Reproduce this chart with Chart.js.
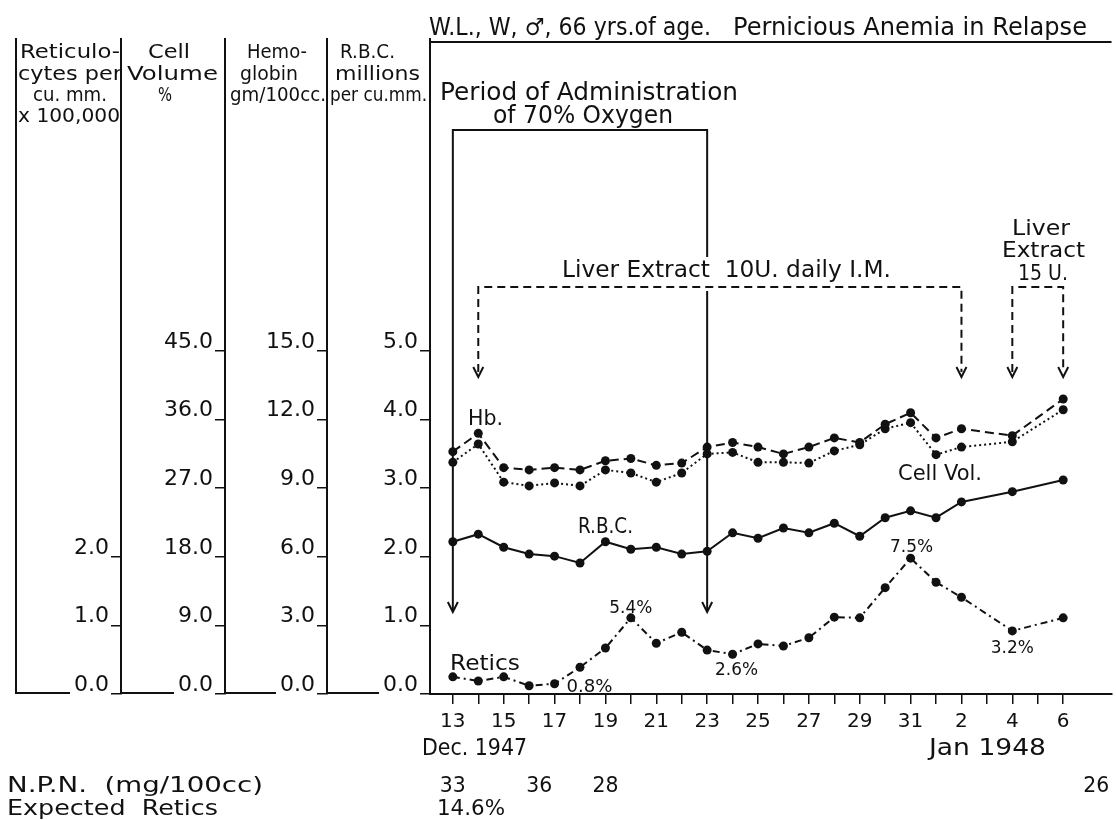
<!DOCTYPE html>
<html>
<head>
<meta charset="utf-8">
<script src="https://cdn.jsdelivr.net/npm/chart.js@4.4.1/dist/chart.umd.min.js"></script>
<style>
  html, body { margin: 0; padding: 0; background: #fff; }
  canvas { display: block; }
</style>
</head>
<body>
<canvas id="chart" width="1116" height="820"></canvas>
<script>
// Days counted from Dec 13, 1947 (0) to Jan 6, 1948 (24)
const dates = ['Dec 13', 'Dec 14', 'Dec 15', 'Dec 16', 'Dec 17', 'Dec 18', 'Dec 19', 'Dec 20',
  'Dec 21', 'Dec 22', 'Dec 23', 'Dec 24', 'Dec 25', 'Dec 26', 'Dec 27', 'Dec 28', 'Dec 29',
  'Dec 30', 'Dec 31', 'Jan 1', 'Jan 2', 'Jan 4', 'Jan 6'];
const dayIndex = [0, 1, 2, 3, 4, 5, 6, 7, 8, 9, 10, 11, 12, 13, 14, 15, 16, 17, 18, 19, 20, 22, 24];

const hemoglobin = [10.6, 11.4, 9.9, 9.8, 9.9, 9.8, 10.2, 10.3, 10.0, 10.1, 10.8, 11.0, 10.8,
  10.5, 10.8, 11.2, 11.0, 11.8, 12.3, 11.2, 11.6, 11.3, 12.9];
const cellVolume = [30.4, 32.8, 27.8, 27.3, 27.7, 27.3, 29.4, 29.0, 27.8, 29.0, 31.5, 31.7, 30.4,
  30.4, 30.3, 31.9, 32.7, 34.8, 35.6, 31.4, 32.4, 33.1, 37.3];
const rbc = [2.22, 2.33, 2.14, 2.04, 2.01, 1.91, 2.22, 2.11, 2.14, 2.04, 2.08, 2.35, 2.27,
  2.42, 2.35, 2.49, 2.30, 2.57, 2.67, 2.57, 2.80, 2.95, 3.12];
const retics = [0.25, 0.19, 0.25, 0.12, 0.15, 0.39, 0.67, 1.11, 0.74, 0.90, 0.64, 0.58, 0.73,
  0.70, 0.82, 1.12, 1.11, 1.55, 1.98, 1.63, 1.41, 0.92, 1.11];

const reticNoteDays = [4, 7, 11, 18, 22];
const reticNotes = ['0.8%', '5.4%', '2.6%', '7.5%', '3.2%'];

const npnDays = [0, 3.4, 6, 25.3];
const npnValues = ['33', '36', '28', '26'];

const xTickLabels = ['13', '', '15', '', '17', '', '19', '', '21', '', '23', '', '25', '', '27', '',
  '29', '', '31', '', '2', '', '4', '', '6'];
const reticTicks = [0, 1, 2];
const cellVolTicks = [0, 9, 18, 27, 36, 45];
const hbTicks = [0, 3, 6, 9, 12, 15];
const rbcTicks = [0, 1, 2, 3, 4, 5];

const BLACK = '#111';
const FONT = '"DejaVu Sans", sans-serif';

function points(values) {
  return values.map((v, i) => ({ x: dayIndex[i], y: v }));
}

// draw text squeezed/stretched to a given width
function fitText(ctx, text, x0, x1, y, size) {
  ctx.font = size + 'px ' + FONT;
  const w = ctx.measureText(text).width;
  ctx.save();
  ctx.translate(x0, y);
  ctx.scale((x1 - x0) / w, 1);
  ctx.textAlign = 'left';
  ctx.textBaseline = 'alphabetic';
  ctx.fillText(text, 0, 0);
  ctx.restore();
}

function centerText(ctx, text, cx, y, size, width) {
  fitText(ctx, text, cx - width / 2, cx + width / 2, y, size);
}

function arrowDown(ctx, x, y) {
  ctx.setLineDash([]);
  ctx.beginPath();
  ctx.moveTo(x - 5, y - 10);
  ctx.lineTo(x, y);
  ctx.lineTo(x + 5, y - 10);
  ctx.stroke();
}

function seg(ctx, x0, y0, x1, y1) {
  ctx.beginPath();
  ctx.moveTo(x0, y0);
  ctx.lineTo(x1, y1);
  ctx.stroke();
}

const annotations = {
  id: 'annotations',
  afterDraw(chart) {
    const { ctx, chartArea: ca, scales } = chart;
    const xs = scales.x;
    const px = d => xs.getPixelForValue(d);
    ctx.save();
    ctx.fillStyle = BLACK;
    ctx.strokeStyle = BLACK;
    ctx.lineWidth = 2;

    // frame top and column rulings
    seg(ctx, ca.left, ca.top + 1, ca.right, ca.top + 1);
    const yIds = ['yRet', 'yCv', 'yHb', 'yRbc'];
    const y0 = scales.yRbc.getPixelForValue(0);
    seg(ctx, scales.yRet.left, 38, scales.yRet.left, y0);
    yIds.forEach(id => {
      const s = scales[id];
      seg(ctx, s.right, 38, s.right, ca.top);
      ctx.font = '22px ' + FONT;
      const w = ctx.measureText('0.0').width;
      seg(ctx, s.left, y0 - 1, s.right - 10 - 3 - w - 3, y0 - 1);
    });

    // column headers
    const headers = [
      ['Reticulo-', 20, 120, 58], ['cytes per', 18, 122, 80], ['cu. mm.', 33, 107, 101], ['x 100,000', 18, 120, 122],
      ['Cell', 148, 190, 58], ['Volume', 127, 218, 80], ['%', 158, 172, 101],
      ['Hemo-', 247, 307, 58], ['globin', 240, 298, 80], ['gm/100cc.', 230, 326, 101],
      ['R.B.C.', 340, 395, 58], ['millions', 335, 420, 80], ['per cu.mm.', 330, 427, 101]
    ];
    headers.forEach(h => fitText(ctx, h[0], h[1], h[2], h[3], 19));

    // title
    fitText(ctx, 'W.L., W, \u2642, 66 yrs.of age.', 429, 711, 35, 24);
    fitText(ctx, 'Pernicious Anemia in Relapse', 733, 1087, 35, 24);

    // oxygen period
    fitText(ctx, 'Period of Administration', 440, 738, 100, 24);
    fitText(ctx, 'of 70% Oxygen', 493, 673, 123, 24);
    const xa = px(0), xb = px(10);
    ctx.setLineDash([]);
    ctx.beginPath();
    ctx.moveTo(xa, 611);
    ctx.lineTo(xa, 130);
    ctx.lineTo(xb, 130);
    ctx.lineTo(xb, 257);
    ctx.moveTo(xb, 291);
    ctx.lineTo(xb, 611);
    ctx.stroke();
    arrowDown(ctx, xa, 612);
    arrowDown(ctx, xb, 612);

    // liver extract brackets
    fitText(ctx, 'Liver Extract  10U. daily I.M.', 562, 891, 277, 23);
    fitText(ctx, 'Liver', 1012, 1070, 235, 22);
    fitText(ctx, 'Extract', 1002, 1085, 257, 22);
    fitText(ctx, '15 U.', 1018, 1068, 280, 22);
    ctx.setLineDash([8, 5]);
    [[1, 20], [22, 24]].forEach(([a, b]) => {
      ctx.beginPath();
      ctx.moveTo(px(a), 372);
      ctx.lineTo(px(a), 287);
      ctx.lineTo(px(b), 287);
      ctx.lineTo(px(b), 372);
      ctx.stroke();
      ctx.setLineDash([8, 5]);
    });
    [1, 20, 22, 24].forEach(d => arrowDown(ctx, px(d), 377));

    // series names
    fitText(ctx, 'Hb.', 468, 503, 425, 22);
    fitText(ctx, 'R.B.C.', 578, 633, 533, 21);
    fitText(ctx, 'Cell Vol.', 898, 982, 480, 21);
    fitText(ctx, 'Retics', 450, 520, 670, 22);

    // reticulocyte percentages
    const ry = scales.yRet;
    const place = [[12, 8, 'left'], [0, -5], [4, 21], [1, -6], [0, 22]];
    reticNoteDays.forEach((d, k) => {
      const i = dayIndex.indexOf(d);
      const x = px(d), y = ry.getPixelForValue(retics[i]);
      const [dx, dy, al] = place[k];
      if (al === 'left') fitText(ctx, reticNotes[k], x + dx, x + dx + 46, y + dy, 18);
      else centerText(ctx, reticNotes[k], x + dx, y + dy, 18, 43);
    });

    // below the axis
    fitText(ctx, 'Dec. 1947', 422, 527, 755, 23);
    fitText(ctx, 'Jan 1948', 929, 1046, 755, 23);
    fitText(ctx, 'N.P.N.  (mg/100cc)', 7, 263, 792, 22);
    fitText(ctx, 'Expected  Retics', 7, 218, 815, 22);
    npnDays.forEach((d, k) => centerText(ctx, npnValues[k], px(d), 792, 21, 26));
    fitText(ctx, '14.6%', 437, 505, 815, 21);

    ctx.restore();
  }
};

function yAxis(tickList, max, weight, width) {
  return {
    type: 'linear',
    position: 'left',
    min: 0,
    max: max,
    weight: weight,
    afterBuildTicks: s => { s.ticks = tickList.map(v => ({ value: v })); },
    afterFit: s => { s.width = width; },
    ticks: {
      callback: v => Number(v).toFixed(1),
      color: BLACK,
      font: { family: FONT, size: 22 },
      padding: 2,
      labelOffset: -9,
      autoSkip: false
    },
    grid: { drawOnChartArea: false, drawTicks: true, tickLength: 10, color: BLACK, lineWidth: 1.5 },
    border: { display: true, color: BLACK, width: 2 }
  };
}

const lineStyle = {
  borderColor: BLACK,
  borderWidth: 2,
  pointRadius: 4.5,
  pointBackgroundColor: BLACK,
  pointBorderWidth: 0,
  fill: false,
  tension: 0
};

new Chart(document.getElementById('chart'), {
  type: 'line',
  data: {
    datasets: [
      Object.assign({ label: 'Hb.', data: points(hemoglobin), yAxisID: 'yHb', borderDash: [9, 5] }, lineStyle),
      Object.assign({ label: 'Cell Vol.', data: points(cellVolume), yAxisID: 'yCv', borderDash: [2, 3] }, lineStyle),
      Object.assign({ label: 'R.B.C.', data: points(rbc), yAxisID: 'yRbc' }, lineStyle),
      Object.assign({ label: 'Retics', data: points(retics), yAxisID: 'yRet', borderDash: [7, 4, 2, 4] }, lineStyle)
    ]
  },
  options: {
    responsive: false,
    animation: false,
    layout: { padding: { left: 16, top: 41, right: 0, bottom: 0 } },
    plugins: { legend: { display: false }, tooltip: { enabled: false } },
    scales: {
      x: {
        type: 'linear',
        min: -0.898,
        max: 25.9,
        afterBuildTicks: s => { s.ticks = xTickLabels.map((t, i) => ({ value: i })); },
        afterFit: s => { s.height = 126; },
        ticks: {
          autoSkip: false,
          maxRotation: 0,
          color: BLACK,
          font: { family: FONT, size: 20 },
          padding: 6,
          callback: (v, i) => xTickLabels[i]
        },
        grid: { drawOnChartArea: false, tickLength: 10, color: BLACK, lineWidth: 1.5 },
        border: { color: BLACK, width: 2 }
      },
      yRbc: yAxis(rbcTicks, 9.52, 1, 103),
      yHb: yAxis(hbTicks, 28.56, 2, 102),
      yCv: yAxis(cellVolTicks, 85.68, 3, 104),
      yRet: yAxis(reticTicks, 9.52, 4, 105)
    }
  },
  plugins: [annotations]
});
</script>
</body>
</html>
